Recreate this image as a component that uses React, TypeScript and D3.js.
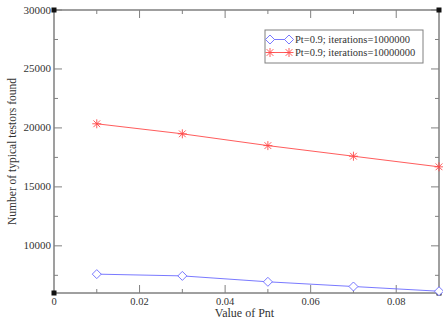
import React, { useEffect, useRef } from "react";
import * as d3 from "d3";

const xValues = [0.01, 0.03, 0.05, 0.07, 0.09];
const seriesSmall = [7600, 7450, 6950, 6550, 6150];
const seriesLarge = [20350, 19500, 18500, 17600, 16700];
const seriesNames = [
  "Pt=0.9; iterations=1000000",
  "Pt=0.9; iterations=10000000",
];
const xTickLabels = [0, 0.02, 0.04, 0.06, 0.08];
const yTickLabels = [10000, 15000, 20000, 25000, 30000];

const W = 443;
const H = 322;
const margin = { left: 54, right: 4, top: 10, bottom: 29 };

const App: React.FC = () => {
  const ref = useRef<SVGSVGElement>(null);

  useEffect(() => {
    const svg = d3.select(ref.current);
    svg.selectAll("*").remove();
    const axisColor = "#808080";

    const x = d3.scaleLinear().domain([0, 0.09]).range([margin.left, W - margin.right]);
    const y = d3.scaleLinear().domain([6000, 30000]).range([H - margin.bottom, margin.top]);
    const [x0, x1] = x.range();
    const [y0, y1] = y.range();

    const g = svg.append("g");

    // frame
    g.append("rect")
      .attr("x", x0)
      .attr("y", y1)
      .attr("width", x1 - x0)
      .attr("height", y0 - y1)
      .attr("fill", "none")
      .attr("stroke", axisColor)
      .attr("stroke-width", 1.5);

    const minorX = d3.range(0.01, 0.09, 0.02);
    const minorY = d3.range(7500, 30000, 5000);

    // ticks on all four sides, pointing inward
    xTickLabels.slice(1).forEach((v) => {
      g.append("line").attr("x1", x(v)).attr("x2", x(v)).attr("y1", y0).attr("y2", y0 - 8).attr("stroke", axisColor);
      g.append("line").attr("x1", x(v)).attr("x2", x(v)).attr("y1", y1).attr("y2", y1 + 8).attr("stroke", axisColor);
    });
    minorX.forEach((v) => {
      g.append("line").attr("x1", x(v)).attr("x2", x(v)).attr("y1", y0).attr("y2", y0 - 4).attr("stroke", axisColor);
      g.append("line").attr("x1", x(v)).attr("x2", x(v)).attr("y1", y1).attr("y2", y1 + 4).attr("stroke", axisColor);
    });
    yTickLabels.forEach((v) => {
      g.append("line").attr("y1", y(v)).attr("y2", y(v)).attr("x1", x0).attr("x2", x0 + 8).attr("stroke", axisColor);
      g.append("line").attr("y1", y(v)).attr("y2", y(v)).attr("x1", x1).attr("x2", x1 - 8).attr("stroke", axisColor);
    });
    minorY.forEach((v) => {
      g.append("line").attr("y1", y(v)).attr("y2", y(v)).attr("x1", x0).attr("x2", x0 + 4).attr("stroke", axisColor);
      g.append("line").attr("y1", y(v)).attr("y2", y(v)).attr("x1", x1).attr("x2", x1 - 4).attr("stroke", axisColor);
    });

    // corner squares
    [[x0, y0], [x1, y0], [x0, y1], [x1, y1]].forEach(([cx, cy]) => {
      g.append("rect").attr("x", cx - 2.5).attr("y", cy - 2.5).attr("width", 5).attr("height", 5).attr("fill", "#111");
    });

    // tick labels
    g.selectAll("text.xt")
      .data(xTickLabels)
      .join("text")
      .attr("x", (d) => x(d))
      .attr("y", y0 + 12)
      .attr("text-anchor", "middle")
      .attr("font-size", 10.5)
      .attr("fill", "#333")
      .text((d) => (d === 0 ? "0" : String(d)));
    g.selectAll("text.yt")
      .data(yTickLabels)
      .join("text")
      .attr("x", x0 - 3)
      .attr("y", (d) => y(d) + 3.5)
      .attr("text-anchor", "end")
      .attr("font-size", 11)
      .attr("fill", "#333")
      .text((d) => String(d));

    // axis titles
    g.append("text")
      .attr("x", (x0 + x1) / 2 - 2)
      .attr("y", H - 5)
      .attr("text-anchor", "middle")
      .attr("font-size", 12)
      .attr("fill", "#333")
      .text("Value of Pnt");
    g.append("text")
      .attr("transform", `translate(16, ${(y0 + y1) / 2}) rotate(-90)`)
      .attr("text-anchor", "middle")
      .attr("font-size", 11.5)
      .attr("fill", "#333")
      .text("Number of typical testors found");

    const line = d3
      .line<number>()
      .x((_, i) => x(xValues[i]))
      .y((d) => y(d));

    const blue = "#6a6aff";
    const red = "#ff4a4a";

    const diamond = (sel: d3.Selection<any, any, any, any>, cx: number, cy: number) =>
      sel
        .append("path")
        .attr("d", `M${cx - 4.5},${cy} L${cx},${cy - 4.5} L${cx + 4.5},${cy} L${cx},${cy + 4.5} Z`)
        .attr("fill", "white")
        .attr("stroke", blue)
        .attr("stroke-width", 0.9);

    const star = (sel: d3.Selection<any, any, any, any>, cx: number, cy: number) => {
      const r = 4.5;
      const s = r * 0.75;
      sel
        .append("path")
        .attr(
          "d",
          `M${cx - r},${cy} L${cx + r},${cy} M${cx},${cy - r} L${cx},${cy + r} M${cx - s},${cy - s} L${cx + s},${cy + s} M${cx - s},${cy + s} L${cx + s},${cy - s}`
        )
        .attr("stroke", red)
        .attr("stroke-width", 0.9);
    };

    g.append("path").datum(seriesSmall).attr("d", line).attr("fill", "none").attr("stroke", blue).attr("stroke-width", 0.9);
    seriesSmall.forEach((v, i) => diamond(g, x(xValues[i]), y(v)));

    g.append("path").datum(seriesLarge).attr("d", line).attr("fill", "none").attr("stroke", red).attr("stroke-width", 0.9);
    seriesLarge.forEach((v, i) => star(g, x(xValues[i]), y(v)));

    // legend
    const lg = g.append("g").attr("transform", "translate(265,30)");
    lg.append("rect").attr("width", 158).attr("height", 33).attr("fill", "white").attr("stroke", axisColor).attr("stroke-width", 1);
    seriesNames.forEach((name, i) => {
      const ly = 9.5 + i * 13;
      const col = i === 0 ? blue : red;
      lg.append("line").attr("x1", 5).attr("x2", 24).attr("y1", ly).attr("y2", ly).attr("stroke", col).attr("stroke-width", 0.9);
      if (i === 0) {
        diamond(lg, 5, ly);
        diamond(lg, 24, ly);
      } else {
        star(lg, 5, ly);
        star(lg, 24, ly);
      }
      lg.append("text")
        .attr("x", 30)
        .attr("y", ly + 3.5)
        .attr("font-size", 10.5)
        .attr("fill", "#333")
        .text(name);
    });
  }, []);

  return (
    <svg
      ref={ref}
      width={W}
      height={H}
      style={{
        position: "absolute",
        left: 0,
        top: 0,
        background: "white",
        fontFamily: '"Liberation Serif", "DejaVu Serif", serif',
      }}
    />
  );
};

export default App;
